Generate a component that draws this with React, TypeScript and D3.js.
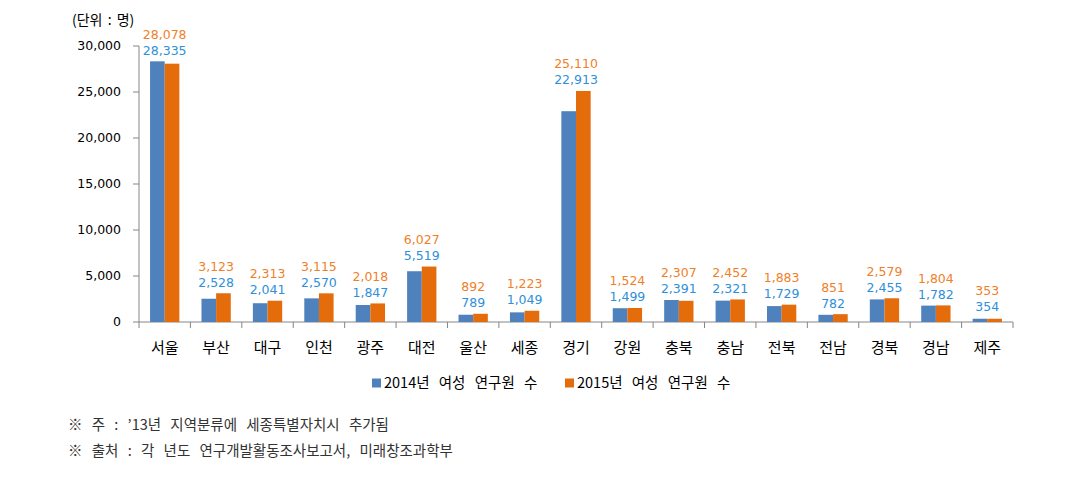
import React from "react";
import * as d3 from "d3";

const categories = ["서울","부산","대구","인천","광주","대전","울산","세종","경기","강원","충북","충남","전북","전남","경북","경남","제주"];
const series2014 = [28335,2528,2041,2570,1847,5519,789,1049,22913,1499,2391,2321,1729,782,2455,1782,354];
const series2015 = [28078,3123,2313,3115,2018,6027,892,1223,25110,1524,2307,2452,1883,851,2579,1804,353];
const yTicks = [0,5000,10000,15000,20000,25000,30000];
const seriesNames = ["2014년 여성 연구원 수","2015년 여성 연구원 수"];
const unitLabel = "(단위 : 명)";
const notes = ["※ 주 : ’13년 지역분류에 세종특별자치시 추가됨","※ 출처 : 각 년도 연구개발활동조사보고서, 미래창조과학부"];

const W = 1088, H = 501;
const left = 139, right = 1013, top = 46, bottom = 322;
const barColors = ["#4F81BD", "#E46C0A"];
const labelColors = ["#2F8FDA", "#F07F2A"];
const font = "'Noto Sans CJK KR', 'Noto Sans', sans-serif";
const numFont = "'DejaVu Sans', Verdana, sans-serif";

export default function App() {
  const x0 = d3.scaleBand<string>().domain(categories).range([left, right]).padding(0);
  const bw = x0.bandwidth();
  const x1 = d3.scaleBand<number>().domain([0, 1]).range([bw * 0.215, bw * 0.785]).padding(0);
  const y = d3.scaleLinear().domain([0, 30000]).range([bottom, top]);
  const fmt = d3.format(",");
  const series = [series2014, series2015];
  const legendX = [372, 565];

  return (
    <svg width={W} height={H} style={{ position: "absolute", left: 0, top: 0, background: "#fff" }} fontFamily={font}>
      <text x={72} y={20} dy="0.35em" fontSize={14} fill="#000" wordSpacing={2}>{unitLabel}</text>
      {/* y axis */}
      <line x1={left} x2={left} y1={top} y2={bottom} stroke="#868686" />
      {yTicks.map((t) => (
        <g key={t}>
          <line x1={left - 6} x2={left} y1={y(t)} y2={y(t)} stroke="#868686" />
          <text x={121} y={y(t)} dy="0.35em" textAnchor="end" fontSize={12.5} fontFamily={numFont} fill="#000">{fmt(t)}</text>
        </g>
      ))}
      {/* x axis */}
      <line x1={left} x2={right} y1={bottom} y2={bottom} stroke="#868686" />
      {categories.map((c) => (
        <line key={"t" + c} x1={x0(c)!} x2={x0(c)!} y1={bottom} y2={bottom + 6} stroke="#868686" />
      ))}
      <line x1={right} x2={right} y1={bottom} y2={bottom + 6} stroke="#868686" />
      {/* bars */}
      {categories.map((c, i) => {
        const base = Math.min(y(series2014[i]), y(series2015[i]), bottom - 4);
        const cx = x0(c)! + bw / 2;
        return (
          <g key={c}>
            {series.map((s, k) => (
              <rect key={k} x={x0(c)! + x1(k)!} width={x1.bandwidth()} y={y(s[i])} height={bottom - y(s[i])} fill={barColors[k]} />
            ))}
            <text x={cx} y={base - 11} dy="0.35em" textAnchor="middle" fontSize={12.5} fontFamily={numFont} fill={labelColors[0]}>{fmt(series2014[i])}</text>
            <text x={cx} y={base - 27} dy="0.35em" textAnchor="middle" fontSize={12.5} fontFamily={numFont} fill={labelColors[1]}>{fmt(series2015[i])}</text>
            <text x={cx} y={348} dy="0.35em" textAnchor="middle" fontSize={15} fill="#000">{c}</text>
          </g>
        );
      })}
      {/* legend */}
      {seriesNames.map((n, k) => (
        <g key={n} transform={`translate(${legendX[k]},383)`}>
          <rect x={0} y={-4.5} width={9} height={9} fill={barColors[k]} />
          <text x={12} y={0} dy="0.35em" fontSize={14.5} fill="#000" wordSpacing={6}>{n}</text>
        </g>
      ))}
      {/* notes */}
      {notes.map((n, i) => (
        <text key={i} x={68} y={425 + i * 26} dy="0.35em" fontSize={14.5} fill="#333" wordSpacing={6}>{n}</text>
      ))}
    </svg>
  );
}
